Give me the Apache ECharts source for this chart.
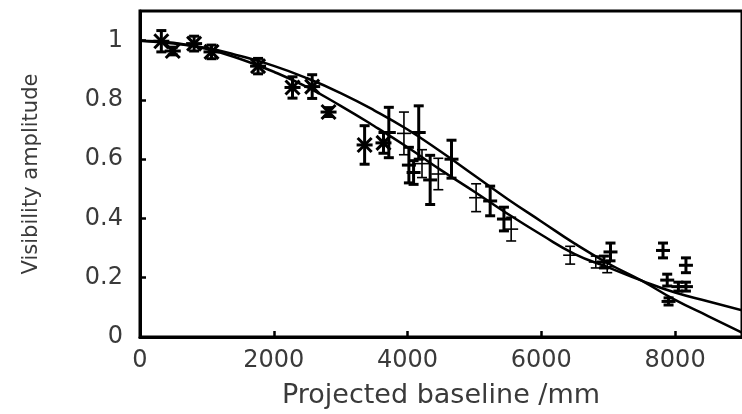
<!DOCTYPE html>
<html><head><meta charset="utf-8">
<script src="https://cdn.jsdelivr.net/npm/echarts@6/dist/echarts.min.js"></script>
<style>html,body{margin:0;padding:0;background:#fff}#c{width:742px;height:414px}</style>
</head><body><div id="c"></div>
<script>
// Model curves
const curveX = [0, 500, 1000, 1500, 2000, 2500, 3000, 3500, 4000, 4500, 5000, 5500, 6000, 6500, 7000, 7500, 8000, 8500, 9000];
const curveA = [1.0, 0.99, 0.975, 0.948, 0.915, 0.873, 0.823, 0.765, 0.70, 0.625, 0.545, 0.465, 0.39, 0.315, 0.248, 0.19, 0.125, 0.07, 0.015];
const curveB = [1.0, 0.993, 0.972, 0.938, 0.895, 0.843, 0.78, 0.712, 0.64, 0.563, 0.49, 0.415, 0.345, 0.28, 0.235, 0.19, 0.15, 0.12, 0.09];

// Star-marked measurements
const starX = [319, 490, 809, 1069, 1765, 2280, 2574, 2819, 3358, 3640];
const starY = [0.998, 0.965, 0.99, 0.962, 0.914, 0.842, 0.845, 0.759, 0.648, 0.655];
const starErr = [0.036, 0.013, 0.025, 0.023, 0.026, 0.036, 0.04, 0.015, 0.065, 0.035];

// Bold plus-marked measurements
const boldX = [3720, 4020, 4090, 4167, 4338, 4657, 5235, 5441, 6936, 7034, 7819, 7882, 7902, 8049, 8162, 8162];
const boldY = [0.69, 0.58, 0.555, 0.69, 0.53, 0.60, 0.459, 0.398, 0.253, 0.287, 0.292, 0.192, 0.12, 0.17, 0.242, 0.17];
const boldErr = [0.085, 0.06, 0.04, 0.09, 0.083, 0.064, 0.05, 0.04, 0.02, 0.03, 0.025, 0.02, 0.012, 0.015, 0.025, 0.015];

// Thin plus-marked measurements
const thinX = [3946, 4216, 4460, 5025, 5549, 6431, 6814, 6985];
const thinY = [0.687, 0.585, 0.55, 0.47, 0.364, 0.276, 0.253, 0.237];
const thinErr = [0.072, 0.047, 0.053, 0.047, 0.04, 0.03, 0.02, 0.02];

const xTicks = [0, 2000, 4000, 6000, 8000];
const yTicks = [0, 0.2, 0.4, 0.6, 0.8, 1];

const zip3 = (a, b, c) => a.map((v, i) => [v, b[i], c[i]]);
const zip2 = (a, b) => a.map((v, i) => [v, b[i]]);

function render(kind, lw) {
  return function (params, api) {
    const x = api.value(0), y = api.value(1), e = api.value(2);
    const c = api.coord([x, y]);
    const t = api.coord([x, y + e]);
    const b = api.coord([x, y - e]);
    const cap = 5, st = { stroke: '#000', lineWidth: lw, fill: null };
    const L = (x1, y1, x2, y2) => ({ type: 'line', shape: { x1, y1, x2, y2 }, style: st });
    const ch = [
      L(c[0], t[1], c[0], b[1]),
      L(c[0] - cap, t[1], c[0] + cap, t[1]),
      L(c[0] - cap, b[1], c[0] + cap, b[1])
    ];
    if (kind === 'star') {
      const s = 7;
      ch.push(L(c[0] - s, c[1] - s, c[0] + s, c[1] + s));
      ch.push(L(c[0] - s, c[1] + s, c[0] + s, c[1] - s));
      ch.push(L(c[0] - s - 1, c[1], c[0] + s + 1, c[1]));
    } else {
      const s = 7;
      ch.push(L(c[0] - s, c[1], c[0] + s, c[1]));
    }
    return { type: 'group', children: ch };
  };
}

const labelStyle = { color: '#3a3a3a', fontFamily: 'DejaVu Sans', fontSize: 24 };
const chart = echarts.init(document.getElementById('c'), null, { renderer: 'canvas' });
chart.setOption({
  animation: false,
  backgroundColor: '#fff',
  grid: { left: 140, right: -10, top: 11, bottom: 73, show: true, borderColor: '#000', borderWidth: 3, backgroundColor: 'transparent' },
  xAxis: {
    type: 'value', min: 0, max: 9000, interval: 2000,
    axisLine: { show: true, lineStyle: { color: '#000', width: 3 } },
    axisTick: { show: true, inside: true, length: 6, lineStyle: { color: '#000', width: 2.5 } },
    splitLine: { show: false },
    axisLabel: Object.assign({ margin: 12, showMaxLabel: false, formatter: v => xTicks.includes(v) ? String(v) : '' }, labelStyle),
    name: 'Projected baseline /mm', nameLocation: 'middle', nameGap: 45,
    nameTextStyle: { color: '#3a3a3a', fontFamily: 'DejaVu Sans', fontSize: 27 }
  },
  yAxis: {
    type: 'value', min: 0, max: 1.1, interval: 0.2,
    axisLine: { show: true, lineStyle: { color: '#000', width: 3 } },
    axisTick: { show: true, inside: true, length: 6, lineStyle: { color: '#000', width: 2.5 } },
    splitLine: { show: false },
    axisLabel: Object.assign({ margin: 17, showMaxLabel: false, formatter: v => { const r = +(+v).toFixed(1); return yTicks.includes(r) ? String(r) : ''; } }, labelStyle),
    name: 'Visibility amplitude', nameLocation: 'middle', nameGap: 98, nameRotate: 90,
    nameTextStyle: { color: '#3a3a3a', fontFamily: 'DejaVu Sans', fontSize: 21 }
  },
  series: [
    { type: 'line', data: zip2(curveX, curveA), smooth: true, showSymbol: false, lineStyle: { color: '#000', width: 2.5 }, z: 3 },
    { type: 'line', data: zip2(curveX, curveB), smooth: true, showSymbol: false, lineStyle: { color: '#000', width: 2.5 }, z: 3 },
    { type: 'custom', renderItem: render('star', 3), data: zip3(starX, starY, starErr), z: 4 },
    { type: 'custom', renderItem: render('plus', 3), data: zip3(boldX, boldY, boldErr), z: 4 },
    { type: 'custom', renderItem: render('plus', 1.6), data: zip3(thinX, thinY, thinErr), z: 4 }
  ]
});
</script></body></html>
